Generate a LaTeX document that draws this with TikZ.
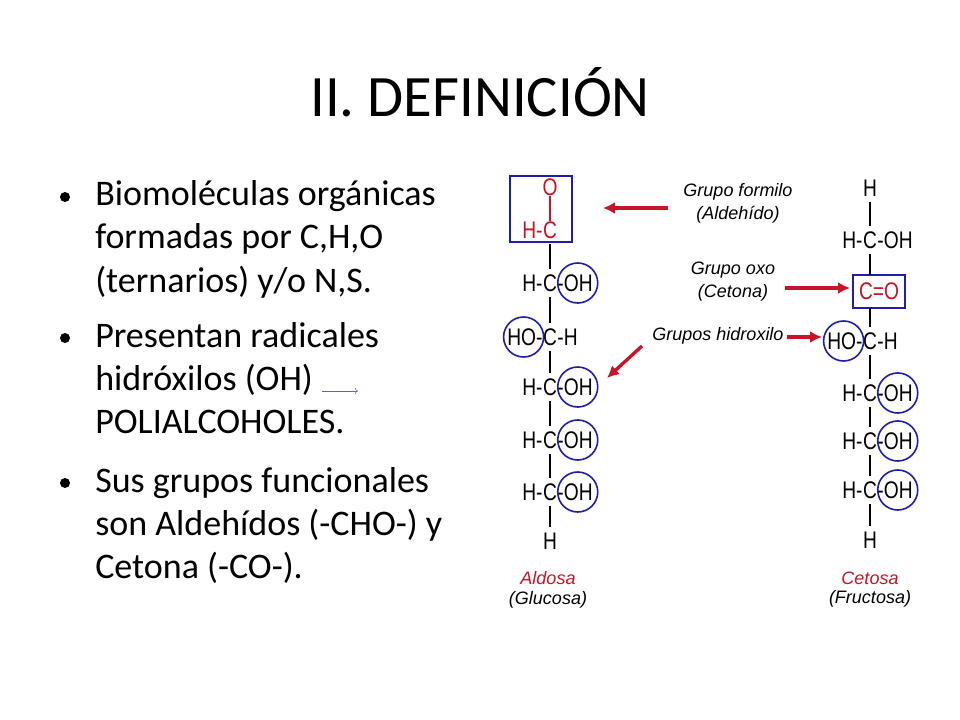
\documentclass[tikz,border=0pt]{standalone}
\usepackage{fontspec}
\setmainfont{Carlito}
\newfontfamily\chemfont{Liberation Sans}
\usetikzlibrary{positioning,arrows.meta}
\definecolor{chemred}{RGB}{200,20,40}
\definecolor{chemblue}{RGB}{30,30,170}
\newcommand{\nar}[1]{\scalebox{0.8}[1]{#1}}
\tikzset{
  atom/.style={inner sep=0pt,font=\chemfont\fontsize{18}{18}\selectfont},
  lbl/.style={inner sep=0pt,font=\chemfont\itshape\fontsize{13.5}{14}\selectfont},
  txt/.style={anchor=base west,inner sep=0pt,font=\fontsize{27}{27}\selectfont},
  ring/.style={draw=chemblue,line width=1.2pt},
  redarrow/.style={draw=chemred,line width=2.5pt,-{Latex[length=9pt,width=9pt]}},
}
\begin{document}
\begin{tikzpicture}[x=0.75pt,y=-0.75pt]
	\useasboundingbox (0,0) rectangle (960,720);
	\fill[white] (0,0) rectangle (960,720);

	% titulo
	\node[inner sep=0pt,font=\fontsize{44}{44}\selectfont] (title) at (480,92) {II. DEFINICIÓN};

	% texto
	\foreach \y/\t in {206/{Biomoléculas orgánicas},249/{formadas por C,H,O},292/{(ternarios) y/o N,S.},
	                   347/{Presentan radicales},390/{hidróxilos (OH)},433/{POLIALCOHOLES.},
	                   492/{Sus grupos funcionales},535/{son Aldehídos (-CHO-) y},578/{Cetona (-CO-).}} {
	     \node[txt] at (95,\y) {\t};
	}
	\foreach \y in {197,338,483} {
	     \fill (65,\y) circle (5);
	}
	\coordinate (a1) at (322,391);
	\coordinate (a2) at (358,391);
	\draw[chemblue!70,thin,->] (a1) -- (a2);

	% Aldosa
	\node[atom,text=chemred] (lo) at (550,187) {\nar{O}};
	\node[atom,text=chemred] (l1) at (550,230) {\nar{C}};
	\node[atom,text=chemred,left=0 of l1] {\nar{H-}};
	\draw[chemred,thick] (lo.south) -- (l1.north);
	\draw[chemblue,line width=1.5pt] (510,176) rectangle (572,242);
	\foreach \i/\y/\a/\b in {2/283/H-/-OH,3/337/HO-/-H,4/387/H-/-OH,5/440/H-/-OH,6/492/H-/-OH} {
	     \node[atom] (l\i) at (550,\y) {\nar{C}};
	     \node[atom,left=0 of l\i] (l\i w) {\nar{\a}};
	     \node[atom,right=0 of l\i] (l\i e) {\nar{\b}};
	}
	\node[atom] (l7) at (550,541) {\nar{H}};
	\foreach \i [evaluate=\i as \j using int(\i+1)] in {1,...,6} {
	     \draw[thick] ([yshift=-4pt]l\i.south) -- ([yshift=4pt]l\j.north);
	}
	\foreach \n in {l2e,l4e,l5e,l6e} {
	     \draw[ring] ([xshift=2pt]\n.center) circle (20);
	}
	\draw[ring] ([xshift=-1pt]l3w.center) circle (20);
	\node[lbl,text=chemred] (aldosa) at (548,578) {Aldosa};
	\node[lbl] (glucosa) at (548,600) {(Glucosa)};

	% Cetosa
	\node[atom] (r0) at (870,188) {\nar{H}};
	\node[atom] (r1) at (870,240) {\nar{C}};
	\node[atom,left=0 of r1] {\nar{H-}};
	\node[atom,right=0 of r1] {\nar{-OH}};
	\node[atom,text=chemred] (r2) at (879,291) {\nar{C=O}};
	\draw[chemblue,line width=1.5pt] (853,275) rectangle (905,308);
	\foreach \i/\y/\a/\b in {3/341/HO-/-H,4/393/H-/-OH,5/441/H-/-OH,6/490/H-/-OH} {
	     \node[atom] (r\i) at (870,\y) {\nar{C}};
	     \node[atom,left=0 of r\i] (r\i w) {\nar{\a}};
	     \node[atom,right=0 of r\i] (r\i e) {\nar{\b}};
	}
	\node[atom] (r7) at (870,540) {\nar{H}};
	\foreach \i [evaluate=\i as \j using int(\i+1)] in {0,3,4,5,6} {
	     \draw[thick] ([yshift=-4pt]r\i.south) -- ([yshift=4pt]r\j.north);
	}
	\draw[thick] ([yshift=-4pt]r1.south) -- (870,275);
	\draw[thick] (870,308) -- ([yshift=4pt]r3.north);
	\foreach \n in {r4e,r5e,r6e} {
	     \draw[ring] ([xshift=2pt]\n.center) circle (20);
	}
	\draw[ring] ([xshift=-1pt]r3w.center) circle (20);
	\node[lbl,text=chemred] (cetosa) at (870,578) {Cetosa};
	\node[lbl] (fructosa) at (870,599) {(Fructosa)};

	% rotulos
	\node[lbl] (formilo) at (738,192) {Grupo formilo};
	\node[lbl] (aldehido) at (738,215) {(Aldehído)};
	\node[lbl] (oxo) at (733,270) {Grupo oxo};
	\node[lbl] (cetona) at (733,293) {(Cetona)};
	\node[lbl] (hidroxilo) at (718,336) {Grupos hidroxilo};
	\coordinate (f1) at (668,208); \coordinate (f2) at (603,208);
	\coordinate (o1) at (785,288); \coordinate (o2) at (850,288);
	\coordinate (h1) at (787,337); \coordinate (h2) at (822,337);
	\coordinate (g1) at (642,346); \coordinate (g2) at (607,378);
	\draw[redarrow] (f1) -- (f2);
	\draw[redarrow] (o1) -- (o2);
	\draw[redarrow] (h1) -- (h2);
	\draw[redarrow] (g1) -- (g2);
\end{tikzpicture}
\end{document}
